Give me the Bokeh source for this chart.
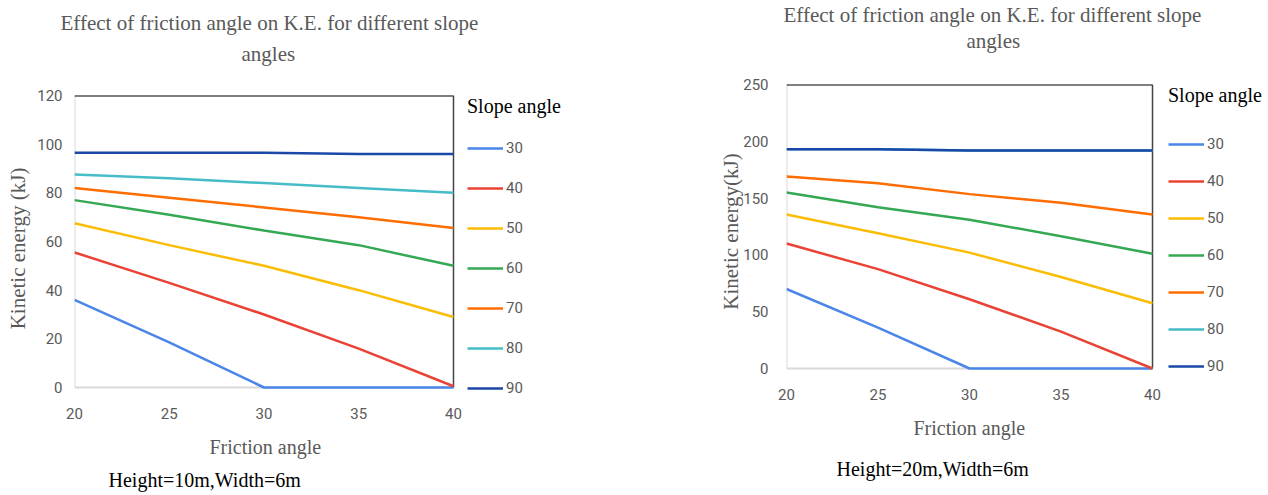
from bokeh.plotting import figure
from bokeh.models import Range1d, Legend, LegendItem, Title
from bokeh.embed import file_html
from bokeh.resources import INLINE

# ---------------- data ----------------
friction_angle = [20, 25, 30, 35, 40]
slope_angles = ["30", "40", "50", "60", "70", "80", "90"]

# Height = 10 m, Width = 6 m  (kinetic energy, kJ)
h10_s30 = [36, 18.5, 0, 0, 0]
h10_s40 = [55.5, 43, 30, 16, 0.5]
h10_s50 = [67.5, 58.5, 50, 40, 29]
h10_s60 = [77, 71, 64.5, 58.5, 50]
h10_s70 = [82, 78, 74, 70, 65.5]
h10_s80 = [87.5, 86, 84, 82, 80]
h10_s90 = [96.5, 96.5, 96.5, 96, 96]

# Height = 20 m, Width = 6 m  (kinetic energy, kJ)
h20_s30 = [70, 36, 0, 0, 0]
h20_s40 = [110, 87.5, 61, 32.5, 0]
h20_s50 = [135.5, 119, 102, 80.5, 57.5]
h20_s60 = [155, 142, 131, 116.5, 101]
h20_s70 = [169, 163, 153.5, 146, 135.5]
h20_s80 = [193, 193, 192, 192, 192]
h20_s90 = [193, 193, 192, 192, 192]

x_ticks = [20, 25, 30, 35, 40]
y_ticks_h10 = [0, 20, 40, 60, 80, 100, 120]
y_ticks_h20 = [0, 50, 100, 150, 200, 250]

colors = ["#4A86E8", "#EA4335", "#FBBC04", "#34A853", "#FF6D01", "#46BDC6", "#1A47A8"]

GRAY = "#595959"
SERIF = "Liberation Serif"
SANS = "Roboto"


def make_chart(series, y_max, y_ticks, title1, title2, ylabel, note,
               plot_w, plot_h, extra_w, extra_h, bl, bt, bb,
               t1_off, t2_off, fr_off, note_off,
               leg_dx, leg_spacing, leg_standoff, leg_h,
               s0, t1s, frs, notes, yl_standoff, ytick_standoff, xtick_standoff):
    x0, x1 = friction_angle[0], friction_angle[-1]
    # data area is plot_w x plot_h px; the frame is extended to the right (legend room)
    # and slightly downward so the legend is not clipped
    x_end = x1 + (x1 - x0) * extra_w / plot_w
    y_start = -y_max * extra_h / plot_h
    fw, fh = plot_w + extra_w, plot_h + extra_h
    p = figure(frame_width=fw, frame_height=fh, output_backend="svg", toolbar_location=None,
               x_range=Range1d(x0, x_end), y_range=Range1d(y_start, y_max),
               min_border_left=bl, min_border_right=0,
               min_border_top=bt, min_border_bottom=bb)
    p.outline_line_color = None
    p.xgrid.visible = False
    p.ygrid.visible = False
    p.background_fill_color = "white"
    p.border_fill_color = "white"

    # plot-area borders: light gray left/bottom, black top, dark right
    p.segment(x0=[x0, x0], y0=[0, 0], x1=[x1, x0], y1=[0, y_max], line_color="#D9D9D9", line_width=2)
    p.segment(x0=[x0], y0=[y_max], x1=[x1], y1=[y_max], line_color="black", line_width=2)
    p.segment(x0=[x1], y0=[0], x1=[x1], y1=[y_max], line_color="#444444", line_width=1.5)

    items = []
    for lab, ys, c in zip(slope_angles, series, colors):
        r = p.line(friction_angle, ys, line_color=c, line_width=2.5)
        items.append(LegendItem(label=lab, renderers=[r]))

    for ax in (p.xaxis, p.yaxis):
        ax.major_tick_line_color = None
        ax.minor_tick_line_color = None
        ax.axis_line_color = None
        ax.major_label_text_font = SANS
        ax.major_label_text_font_size = "15px"
        ax.major_label_text_color = GRAY
        ax.axis_label_text_font = SERIF
        ax.axis_label_text_font_style = "normal"
        ax.axis_label_text_color = GRAY
    p.xaxis.ticker = x_ticks
    p.yaxis.ticker = y_ticks
    p.xaxis.major_label_standoff = xtick_standoff
    p.yaxis.axis_label = ylabel
    p.yaxis.axis_label_text_font_size = "21px"
    p.yaxis.major_label_standoff = ytick_standoff
    p.yaxis.axis_label_standoff = yl_standoff

    leg_top_gap = 0
    leg = Legend(items=items, title="Slope angle",
                 location=(plot_w + leg_dx, fh - leg_top_gap - leg_h),
                 title_text_font=SERIF, title_text_font_size="20px",
                 title_text_color="black", title_text_font_style="normal",
                 title_standoff=leg_standoff,
                 label_text_font=SANS, label_text_font_size="15px",
                 label_text_color=GRAY, glyph_width=36, glyph_height=20,
                 label_height=20, label_standoff=3, spacing=leg_spacing,
                 padding=0, margin=0, border_line_color=None,
                 background_fill_alpha=0)
    p.add_layout(leg, "center")

    tstyle = dict(align="left", text_font=SERIF, text_font_size="21px",
                  text_color=GRAY, text_font_style="normal")
    # blank spacer between frame and the two-line title
    p.add_layout(Title(text=" ", standoff=s0, **tstyle), "above")
    p.add_layout(Title(text=title2, standoff=0, offset=t2_off, **tstyle), "above")
    p.add_layout(Title(text=title1, standoff=t1s, offset=t1_off, **tstyle), "above")
    p.add_layout(Title(text="Friction angle", align="left", offset=fr_off,
                       text_font=SERIF, text_font_size="20px", text_color=GRAY,
                       text_font_style="normal", standoff=frs), "below")
    p.add_layout(Title(text=note, align="left", offset=note_off,
                       text_font=SERIF, text_font_size="20px", text_color="black",
                       text_font_style="normal", standoff=notes), "below")
    return p


p1 = make_chart([h10_s30, h10_s40, h10_s50, h10_s60, h10_s70, h10_s80, h10_s90],
                120, y_ticks_h10,
                "Effect of friction angle on K.E. for different slope", "angles",
                "Kinetic energy (kJ)", "Height=10m,Width=6m",
                plot_w=379, plot_h=292, extra_w=187, extra_h=14, bl=74, bt=95, bb=92,
                t1_off=-14, t2_off=167, fr_off=135, note_off=34,
                leg_dx=14, leg_spacing=20, leg_standoff=20, leg_h=303,
                s0=4, t1s=9, frs=24, notes=-6, yl_standoff=4, ytick_standoff=6,
                xtick_standoff=0)

p2 = make_chart([h20_s30, h20_s40, h20_s50, h20_s60, h20_s70, h20_s80, h20_s90],
                250, y_ticks_h20,
                "Effect of friction angle on K.E. for different slope", "angles",
                "Kinetic energy(kJ)", "Height=20m,Width=6m",
                plot_w=366, plot_h=284, extra_w=116, extra_h=10, bl=146, bt=84, bb=117,
                t1_off=-3, t2_off=180, fr_off=127, note_off=50,
                leg_dx=16, leg_spacing=17, leg_standoff=27, leg_h=292,
                s0=6, t1s=0, frs=24, notes=10, yl_standoff=-3, ytick_standoff=12,
                xtick_standoff=4)

TEMPLATE = """
{% block postamble %}<style>
html, body { overflow: hidden !important; }
body { display: flex !important; flex-direction: row; align-items: flex-start; }
</style>{% endblock %}"""

open("out.html", "w").write(file_html([p1, p2], INLINE, template=TEMPLATE))
